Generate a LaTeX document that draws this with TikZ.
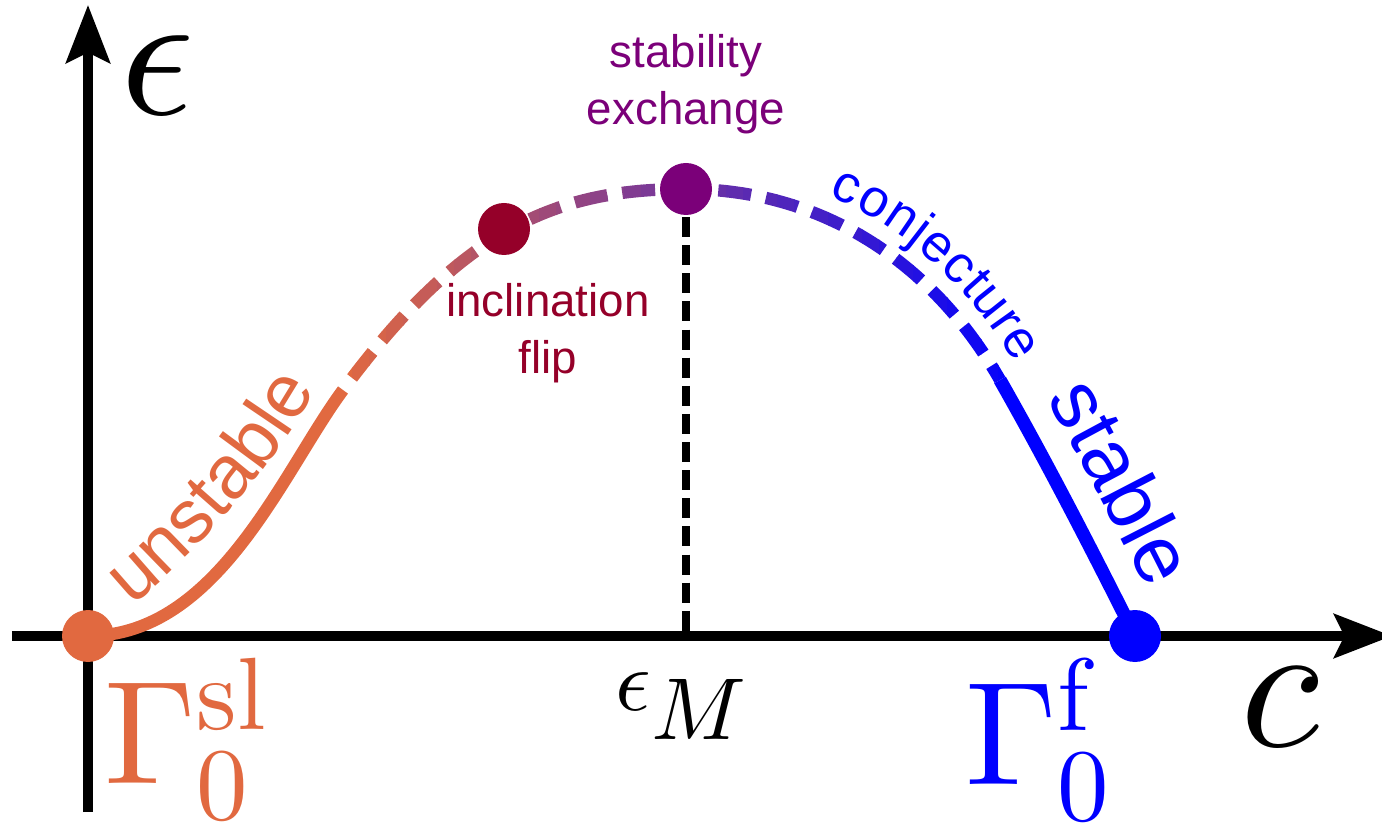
\documentclass[tikz,border=0pt]{standalone}
\usepackage[no-math]{fontspec}
\setsansfont{Liberation Sans}
\DeclareFontShape{OT1}{cmr}{m}{n}{<->cmr10}{}
\DeclareFontShape{OML}{cmm}{m}{it}{<->cmmi10}{}
\DeclareFontShape{OMS}{cmsy}{m}{n}{<->cmsy10}{}
\usetikzlibrary{arrows.meta,positioning,decorations.text}

\definecolor{unstcol}{RGB}{225,105,64}
\definecolor{flipcol}{RGB}{149,0,41}
\definecolor{exchcol}{RGB}{123,0,121}
\definecolor{stabcol}{RGB}{0,0,255}

\tikzset{
  axisline/.style={line width=2.6pt,-{Stealth[length=16.5pt,width=12.5pt,inset=3pt]}},
  branch/.style={line width=3.5pt},
  bifdot/.style={circle,inner sep=0pt,minimum size=0.52cm},
  sanslbl/.style={font=\sffamily\fontsize{13}{16}\selectfont,align=center,inner sep=0pt},
  mathlbl/.style={inner sep=0pt,anchor=base west},
}

\begin{document}
\begin{tikzpicture}
\useasboundingbox (0,0) rectangle (13.82,8.25);
% axes
\coordinate (ybot) at (0.88,0.13);
\coordinate (ytop) at (0.88,8.20);
\coordinate (xleft) at (0.12,1.89);
\coordinate (xright) at (13.92,1.89);
% points on the branch
\coordinate (A) at (0.88,1.89);
\coordinate (S1) at (3.43,4.35);
\coordinate (F) at (5.04,5.96);
\coordinate (M) at (6.86,6.36);
\coordinate (S2) at (10.00,4.45);
\coordinate (B) at (11.35,1.89);
\coordinate (Mfoot) at (6.86,1.89);

\draw[line width=2.2pt,dash pattern=on 5.7pt off 2.3pt] (M) -- (Mfoot);
\draw[axisline] (ybot) -- (ytop);
\draw[axisline] (xleft) -- (xright);

% solid unstable part
\draw[branch,unstcol] (A) .. controls (2.18,1.89) and (2.83,3.54) .. (S1);
% dashed part, colour running from orange to blue
\foreach \i in {0,...,39}{
  \pgfmathsetmacro\xa{3.35+\i*0.17}
  \pgfmathsetmacro\xb{\xa+0.175}
  \pgfmathsetmacro\mixpct{100-\i*2.5}
  \begin{scope}
    \clip (\xa,0) rectangle (\xb,8.25);
    \draw[branch,unstcol!\mixpct!stabcol,dash pattern=on 9.4pt off 4.3pt,dash phase=9.4pt]
      (S1) .. controls (4.63,5.97) and (5.57,6.36) .. (M)
           .. controls (8.17,6.36) and (9.30,5.675) .. (S2);
  \end{scope}
}
% solid stable part
\draw[branch,stabcol,line width=3.8pt] (S2) .. controls (10.45,3.66) and (10.90,2.79) .. (B);

% labels along the branch
\path[decorate,decoration={text along path,text color=unstcol,
    text={|\sffamily\fontsize{21.5}{24}\selectfont|unstable}}]
  (1.32,2.19) .. controls (2.0,2.75) and (2.72,3.57) .. (3.15,4.33) -- (3.45,4.85);
\path[decorate,decoration={text along path,text color=stabcol,raise=6pt,
    text align={left indent=39pt},
    text={|\sffamily\fontsize{15}{17}\selectfont|conjecture}}]
  (M) .. controls (8.17,6.36) and (9.30,5.675) .. (S2)
      .. controls (10.45,3.66) and (10.90,2.79) .. (B);
\path[decorate,decoration={text along path,text color=stabcol,raise=9pt,
    text align={left indent=11pt},
    text={|\sffamily\fontsize{23}{26}\selectfont|stable}}]
  (S2) .. controls (10.45,3.66) and (10.90,2.79) .. (B);

% special points
\node[bifdot,fill=unstcol] (sl) at (A) {};
\node[bifdot,fill=stabcol] (fr) at (B) {};
\node[bifdot,fill=flipcol] (flip) at (F) {};
\node[bifdot,fill=exchcol] (exch) at (M) {};

\node[sanslbl,exchcol,above=0.28cm of exch] (exchtxt) {stability\\exchange};
\node[sanslbl,flipcol,anchor=north] (fliptxt) at (5.48,5.42) {inclination\\flip};

% axis and point labels
\node[mathlbl] (eps) at (1.20,7.10) {\fontsize{52}{60}\selectfont$\epsilon$};
\node[mathlbl] (cc) at (12.40,0.79) {\fontsize{52}{60}\selectfont$c$};
\node[mathlbl] (epsM) at (6.15,1.15) {\fontsize{25}{30}\selectfont$\epsilon_{\textstyle M}$};
\node[mathlbl,unstcol] (gsl) at (1.04,0.42) {\fontsize{41.8}{50}\selectfont$\Gamma_0^{\mathrm{sl}}$};
\node[mathlbl,stabcol] (gf) at (9.65,0.41) {\fontsize{41.8}{50}\selectfont$\Gamma_0^{\mathrm{f}}$};
\end{tikzpicture}
\end{document}
